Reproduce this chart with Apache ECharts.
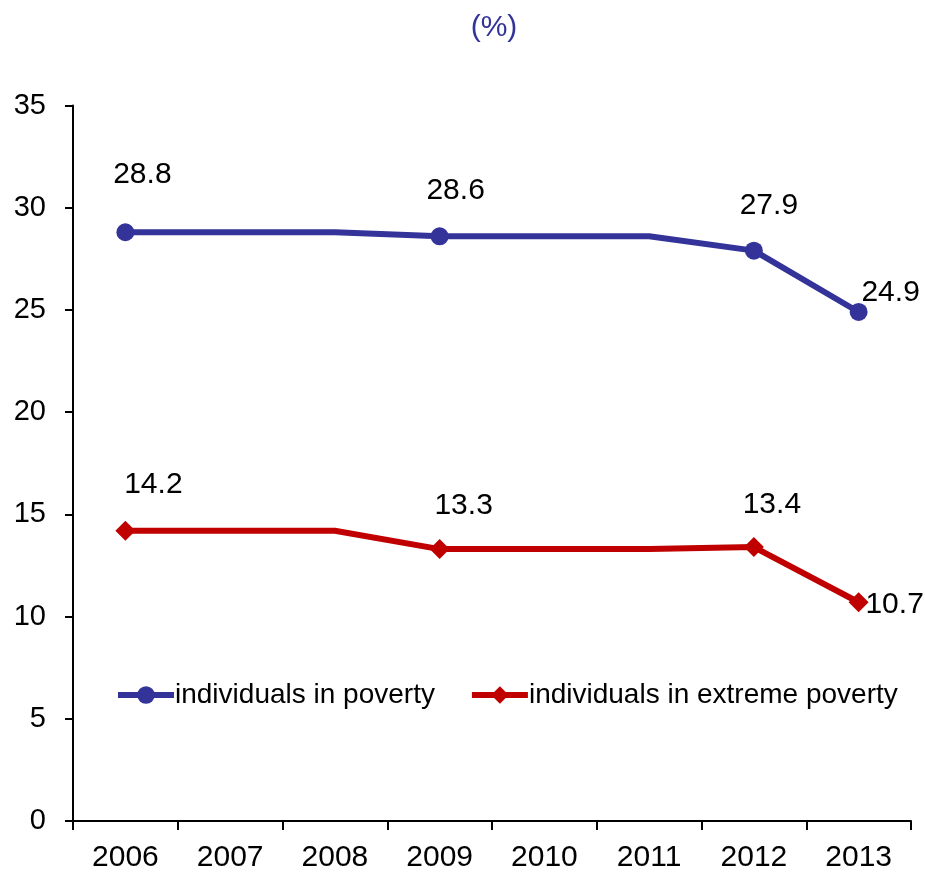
<!DOCTYPE html>
<html>
<head>
<meta charset="utf-8">
<script src="https://cdn.jsdelivr.net/npm/echarts@6/dist/echarts.min.js"></script>
<style>html,body{margin:0;padding:0;background:#fff}#c{width:925px;height:873px}</style>
</head>
<body>
<div id="c"></div>
<script>
var categories = ['2006','2007','2008','2009','2010','2011','2012','2013'];
var poverty = [28.8, 28.8, 28.8, 28.6, 28.6, 28.6, 27.9, 24.9];
var extreme = [14.2, 14.2, 14.2, 13.3, 13.3, 13.3, 13.4, 10.7];
var markedIdx = [0, 3, 6, 7];
var yTicks = [0, 5, 10, 15, 20, 25, 30, 35];
var seriesNames = ['individuals in poverty', 'individuals in extreme poverty'];

var povertyOffsets = {0: [17, -58], 3: [16, -46], 6: [15, -45], 7: [32, -19]};
var extremeOffsets = {0: [28, -46], 3: [24, -43], 6: [18, -42], 7: [36, 2]};

var FONT = 'Liberation Sans, Arial, sans-serif';

function build(values, offsets) {
  return values.map(function (v, i) {
    var marked = markedIdx.indexOf(i) >= 0;
    var item = { value: v };
    if (!marked) {
      item.symbol = 'none';
      item.label = { show: false };
    } else {
      item.label = { show: true, offset: offsets[i] };
    }
    return item;
  });
}

var chart = echarts.init(document.getElementById('c'), null, {renderer: 'canvas'});
chart.setOption({
  animation: false,
  backgroundColor: '#ffffff',
  title: {
    text: '(%)',
    left: 489,
    textAlign: 'center',
    top: 8,
    textStyle: { color: '#333399', fontSize: 30, fontWeight: 'normal', fontFamily: FONT }
  },
  legend: {
    left: 110,
    top: 676,
    width: 810,
    orient: 'horizontal',
    itemWidth: 56,
    itemHeight: 22,
    itemGap: 34,
    lineStyle: { width: 6 },
    textStyle: { fontSize: 28, color: '#000', fontFamily: FONT, padding: [0, 0, 0, -4] },
    data: seriesNames
  },
  grid: { left: 73, right: 14, top: 105.5, bottom: 52, containLabel: false },
  xAxis: {
    type: 'category',
    data: categories,
    boundaryGap: true,
    axisLine: { lineStyle: { color: '#000', width: 2 } },
    axisTick: { show: true, length: 9, lineStyle: { color: '#000', width: 2 } },
    axisLabel: { fontSize: 30, color: '#000', fontFamily: FONT, margin: 22 },
    splitLine: { show: false }
  },
  yAxis: {
    type: 'value',
    min: yTicks[0],
    max: yTicks[yTicks.length - 1],
    interval: 5,
    axisLine: { show: true, lineStyle: { color: '#000', width: 2 } },
    axisTick: { show: true, length: 8, lineStyle: { color: '#000', width: 2 } },
    axisLabel: { fontSize: 29, color: '#000', fontFamily: FONT, margin: 27 },
    splitLine: { show: false }
  },
  series: [
    {
      name: seriesNames[0],
      type: 'line',
      data: build(poverty, povertyOffsets),
      symbol: 'circle',
      symbolSize: 18,
      showAllSymbol: true,
      color: '#333399',
      lineStyle: { width: 6, color: '#333399' },
      itemStyle: { color: '#333399' },
      label: { show: true, position: 'inside', fontSize: 30, color: '#000', fontFamily: FONT }
    },
    {
      name: seriesNames[1],
      type: 'line',
      data: build(extreme, extremeOffsets),
      symbol: 'diamond',
      symbolSize: 20,
      showAllSymbol: true,
      color: '#C00000',
      lineStyle: { width: 6, color: '#C00000' },
      itemStyle: { color: '#C00000' },
      label: { show: true, position: 'inside', fontSize: 30, color: '#000', fontFamily: FONT }
    }
  ]
});
</script>
</body>
</html>
